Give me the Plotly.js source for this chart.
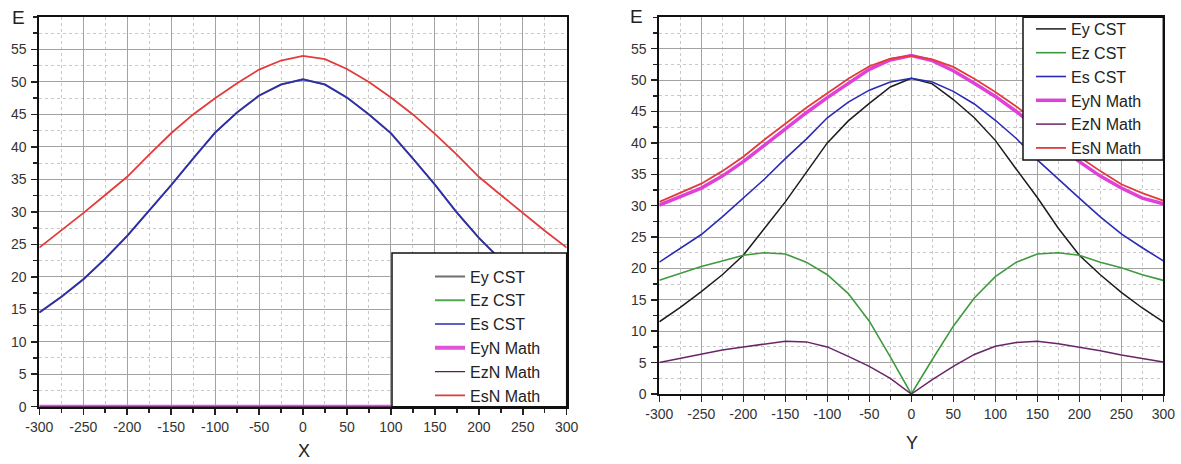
<!DOCTYPE html>
<html><head><meta charset="utf-8">
<script src="https://cdn.plot.ly/plotly-3.0.1.min.js"></script>
<style>html,body{margin:0;padding:0;background:#fff}#chart{width:1181px;height:464px}</style>
</head><body><div id="chart"></div>
<script>
// ---- data ----
const xPos = [-300,-275,-250,-225,-200,-175,-150,-125,-100,-75,-50,-25,0,25,50,75,100,125,150,175,200,225,250,275,300];
const seriesNames = ['Ey CST','Ez CST','Es CST','EyN Math','EzN Math','EsN Math'];

// left chart (along X)
const leftEyCST  = [14.5,16.9,19.6,22.8,26.3,30.2,34.1,38.2,42.2,45.3,47.9,49.6,50.4,49.6,47.6,45.0,42.1,38.2,34.2,29.9,26.0,22.6,19.6,16.9,14.5];
const leftEzCST  = [0,0,0,0,0,0,0,0,0,0,0,0,0,0,0,0,0,0,0,0,0,0,0,0,0];
const leftEsCST  = [14.5,16.9,19.6,22.8,26.3,30.2,34.1,38.2,42.2,45.3,47.9,49.6,50.4,49.6,47.6,45.0,42.1,38.2,34.2,29.9,26.0,22.6,19.6,16.9,14.5];
const leftEyNMath = [0,0,0,0,0,0,0,0,0,0,0,0,0,0,0,0,0,0,0,0,0,0,0,0,0];
const leftEzNMath = [0,0,0,0,0,0,0,0,0,0,0,0,0,0,0,0,0,0,0,0,0,0,0,0,0];
const leftEsNMath = [24.5,27.1,29.8,32.6,35.4,38.8,42.1,45.0,47.5,49.8,51.9,53.3,54.0,53.5,52.0,50.0,47.6,45.0,42.0,38.8,35.4,32.6,29.8,27.1,24.5];

// right chart (along Y)
const rightEyCST  = [11.5,13.8,16.3,19.0,22.1,26.3,30.6,35.3,40.0,43.5,46.3,48.9,50.3,49.4,46.9,44.0,40.4,35.8,31.3,26.4,22.1,19.0,16.2,13.7,11.5];
const rightEzCST  = [18.1,19.2,20.3,21.2,22.1,22.5,22.3,21.0,19.0,16.0,11.6,5.9,0,5.5,10.8,15.3,18.7,21.0,22.3,22.5,22.1,21.0,20.1,19.0,18.1];
const rightEsCST  = [21.0,23.2,25.4,28.2,31.2,34.2,37.5,40.6,44.0,46.5,48.4,49.7,50.3,49.7,48.2,46.2,43.6,40.7,37.3,34.2,31.2,28.2,25.5,23.3,21.2];
const rightEyNMath = [30.1,31.4,32.8,34.7,37.0,39.6,42.2,44.8,47.2,49.5,51.7,53.2,53.9,53.1,51.5,49.5,47.4,45.0,42.3,39.6,37.0,34.7,32.8,31.2,30.3];
const rightEzNMath = [5.0,5.7,6.4,7.0,7.5,8.0,8.4,8.3,7.5,6.0,4.4,2.5,0,2.3,4.4,6.3,7.6,8.2,8.4,8.0,7.5,6.9,6.2,5.6,5.1];
const rightEsNMath = [30.6,32.0,33.5,35.5,37.8,40.5,43.1,45.6,47.9,50.2,52.2,53.4,53.9,53.3,52.1,50.2,48.1,45.8,43.2,40.5,37.8,35.5,33.4,32.0,30.8];

const xTickVals = [-300,-250,-200,-150,-100,-50,0,50,100,150,200,250,300];
const xTickText = ['-300','-250','-200','-150','-100','-50','0','50','100','150','200','250','300'];
const yTickVals = [0,5,10,15,20,25,30,35,40,45,50,55];
const yTickText = ['0','5','10','15','20','25','30','35','40','45','50','55'];

// ---- styling ----
const W = 1181, H = 464;
const FONT = 'Liberation Sans, Arial, sans-serif';
const px = v => v / W, py = v => 1 - v / H;

const leftStyles = [
  {color:'#6e6e6e', width:2},
  {color:'#4fa84f', width:2},
  {color:'#2b2bb5', width:1.6},
  {color:'#e055d8', width:4},
  {color:'#5a1f5a', width:1.4},
  {color:'#e33b3b', width:1.8}
];
const rightStyles = [
  {color:'#1c1c1c', width:1.5},
  {color:'#3e9a3e', width:1.6},
  {color:'#2b2bb5', width:1.6},
  {color:'#e040d8', width:3.5},
  {color:'#6a2468', width:1.5},
  {color:'#e33b3b', width:1.8}
];

const leftY = [leftEyCST, leftEzCST, leftEsCST, leftEyNMath, leftEzNMath, leftEsNMath];
const rightY = [rightEyCST, rightEzCST, rightEsCST, rightEyNMath, rightEzNMath, rightEsNMath];

const traces = [];
seriesNames.forEach((n, i) => traces.push({
  x: xPos, y: leftY[i], name: n, type: 'scatter', mode: 'lines',
  line: leftStyles[i], xaxis: 'x', yaxis: 'y', legend: 'legend'
}));
seriesNames.forEach((n, i) => traces.push({
  x: xPos, y: rightY[i], name: n, type: 'scatter', mode: 'lines',
  line: rightStyles[i], xaxis: 'x2', yaxis: 'y2', legend: 'legend2'
}));

function xAxis(domain, anchor) {
  return {
    domain, anchor, range: [-300, 300], tickmode: 'array', tickvals: xTickVals, ticktext: xTickText,
    showline: true, linecolor: '#111', linewidth: 2, mirror: true,
    ticks: 'outside', ticklen: 6, tickwidth: 1.5, tickcolor: '#222', ticklabelstandoff: 0,
    showgrid: true, gridcolor: '#a3a3a3', gridwidth: 1, zeroline: false, layer: 'below traces',
    tickfont: {family: FONT, size: 14, color: '#333'},
    minor: {tickmode: 'linear', tick0: -300, dtick: 25, ticks: 'outside', ticklen: 4, tickwidth: 1.5,
            tickcolor: '#222', showgrid: true, gridcolor: '#c8c8c8', griddash: 'dot', gridwidth: 1},
    fixedrange: true
  };
}
function yAxis(domain, anchor) {
  return {
    domain, anchor, range: [0, 60], tickmode: 'array', tickvals: yTickVals, ticktext: yTickText,
    showline: true, linecolor: '#111', linewidth: 2, mirror: true,
    ticks: 'outside', ticklen: 6, tickwidth: 1.5, tickcolor: '#222', ticklabelstandoff: 2,
    showgrid: true, gridcolor: '#a3a3a3', gridwidth: 1, zeroline: false, layer: 'below traces',
    tickfont: {family: FONT, size: 14, color: '#333'},
    minor: {tickmode: 'linear', tick0: 0, dtick: 2.5, ticks: 'outside', ticklen: 4, tickwidth: 1.5,
            tickcolor: '#222', showgrid: true, gridcolor: '#c8c8c8', griddash: 'dot', gridwidth: 1},
    fixedrange: true
  };
}

function label(text, x, y, size) {
  return {text, xref: 'paper', yref: 'paper', x: px(x), y: py(y), xanchor: 'center', yanchor: 'middle',
          showarrow: false, borderpad: 0, font: {family: FONT, size: size, color: '#222'}};
}
const layout = {
  width: W, height: H,
  margin: {l: 0, r: 0, t: 0, b: 0},
  paper_bgcolor: '#fff', plot_bgcolor: '#fff',
  font: {family: FONT, color: '#222'},
  xaxis: xAxis([px(39.3), px(566.7)], 'y'),
  yaxis: yAxis([1 - 406.7 / H, 1 - 17 / H], 'x'),
  xaxis2: xAxis([px(659.3), px(1163.3)], 'y2'),
  yaxis2: yAxis([1 - 394 / H, 1 - 17.3 / H], 'x2'),
  showlegend: true,
  legend: {x: px(430), xanchor: 'left', y: py(259.5), yanchor: 'top', bgcolor: 'rgba(0,0,0,0)',
           borderwidth: 0, font: {family: FONT, size: 16, color: '#222'}, traceorder: 'normal'},
  legend2: {x: px(1031), xanchor: 'left', y: py(12), yanchor: 'top', bgcolor: 'rgba(0,0,0,0)',
           borderwidth: 0, font: {family: FONT, size: 16, color: '#222'}, traceorder: 'normal'},
  shapes: [
    {type: 'rect', xref: 'paper', yref: 'paper', x0: px(392), x1: px(566.7), y0: py(406.7), y1: py(253),
     line: {color: '#111', width: 1.5}, fillcolor: '#fff', layer: 'above'},
    {type: 'rect', xref: 'paper', yref: 'paper', x0: px(1023), x1: px(1163.3), y0: py(160), y1: py(17.3),
     line: {color: '#111', width: 1.5}, fillcolor: '#fff', layer: 'above'}
  ],
  annotations: [
    label('E', 18, 17, 19),
    label('E', 636, 16.5, 19),
    label('X', 304, 451, 18),
    label('Y', 912, 443, 18)
  ]
};

Plotly.newPlot('chart', traces, layout, {staticPlot: true, displayModeBar: false});
</script>
</body></html>
